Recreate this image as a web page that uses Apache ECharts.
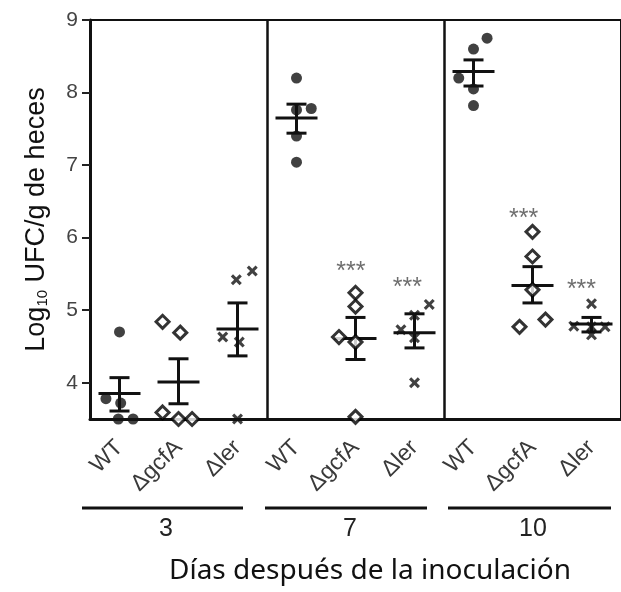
<!DOCTYPE html>
<html lang="es">
<head>
<meta charset="UTF-8">
<title>UFC</title>
<style>
  *{margin:0;padding:0;}
  html,body{width:100%;height:100%;background:#fff;}
  #chart{width:621px;height:592px;}
</style>
</head>
<body>
<div id="chart"></div>
<script src="https://cdn.jsdelivr.net/npm/echarts@6/dist/echarts.min.js"></script>
<script>
// categories (strain per day group)
const strains = ['WT', 'ΔgcfA', 'Δler'];
const days = ['3', '7', '10'];
const categories = ['WT', 'ΔgcfA', 'Δler', 'WT', 'ΔgcfA', 'Δler', 'WT', 'ΔgcfA', 'Δler'];
const yTicks = [4, 5, 6, 7, 8, 9];

// individual animals: [category index + jitter, log10 UFC]
const wtPoints = [
  [0.00, 4.70], [-0.23, 3.78], [0.02, 3.72], [-0.02, 3.50], [0.23, 3.50],
  [3.00, 8.20], [3.25, 7.78], [3.00, 7.76], [3.00, 7.40], [3.00, 7.04],
  [6.23, 8.75], [6.00, 8.60], [5.75, 8.20], [6.00, 8.05], [6.00, 7.82]
];
const gcfaPoints = [
  [0.73, 4.84], [1.03, 4.69], [0.73, 3.59], [1.00, 3.50], [1.23, 3.50],
  [4.00, 5.24], [4.00, 5.05], [3.72, 4.63], [4.00, 4.56], [4.00, 3.53],
  [7.00, 6.08], [7.00, 5.74], [7.00, 5.28], [6.78, 4.77], [7.22, 4.87]
];
const lerPoints = [
  [1.98, 5.42], [2.25, 5.54], [1.75, 4.63], [2.03, 4.56], [2.00, 3.50],
  [5.25, 5.08], [5.00, 4.93], [4.77, 4.73], [5.00, 4.62], [5.00, 4.00],
  [8.00, 5.09], [7.70, 4.78], [8.00, 4.77], [8.23, 4.77], [8.00, 4.66]
];

// mean ± SEM
const means   = [3.85, 4.01, 4.74, 7.65, 4.61, 4.69, 8.29, 5.34, 4.81];
const semHigh = [4.07, 4.33, 5.10, 7.84, 4.90, 4.95, 8.45, 5.60, 4.90];
const semLow  = [3.61, 3.71, 4.37, 7.44, 4.32, 4.48, 8.09, 5.10, 4.70];

// significance marks: [category index + shift, height]
const starMarks = [[3.92, 5.52], [4.88, 5.31], [6.85, 6.26], [7.83, 5.27]];

const crossPath = 'path://M0,2 L2,0 L5,3 L8,0 L10,2 L7,5 L10,8 L8,10 L5,7 L2,10 L0,8 L3,5 Z';

function shift(pts) {
  return pts.map(p => [p[0] + 0.5, p[1]]);
}

const errData = means.map((m, i) => [i + 0.5, m, semLow[i], semHigh[i]]);

const chart = echarts.init(document.getElementById('chart'));

const option = {
  animation: false,
  grid: {
    left: 90, top: 20, width: 540, height: 399,
    show: true, borderColor: '#111', borderWidth: 2
  },
  xAxis: [{
    type: 'category',
    data: categories,
    boundaryGap: true,
    axisLine: {lineStyle: {color: '#111', width: 3}},
    axisTick: {alignWithLabel: true, length: 8, lineStyle: {color: '#222', width: 2}},
    axisLabel: {rotate: 45, fontSize: 23, color: '#3a3a3a', margin: 25, fontFamily: 'Liberation Sans'},
    splitLine: {show: false}
  }, {
    type: 'value',
    min: 0, max: 9,
    show: false
  }],
  yAxis: {
    type: 'value',
    min: 3.5, max: 9,
    interval: 0.5,
    axisLine: {show: true, lineStyle: {color: '#111', width: 3}},
    axisTick: {show: true, length: 8, customValues: yTicks, lineStyle: {color: '#222', width: 2}},
    axisLabel: {fontSize: 21, color: '#444', margin: 12, customValues: yTicks, fontFamily: 'Liberation Sans'},
    splitLine: {show: false},
    name: '{a|Log}{b|10}{a| UFC/g de heces}',
    nameLocation: 'middle',
    nameRotate: 90,
    nameGap: 40,
    nameTextStyle: {
      color: '#111',
      rich: {
        a: {fontSize: 27, fontFamily: 'Liberation Sans', color: '#111'},
        b: {fontSize: 15, fontFamily: 'Liberation Sans', color: '#111', verticalAlign: 'bottom', padding: [11, 0, 0, 0]}
      }
    }
  },
  series: [{
    type: 'custom',
    xAxisIndex: 1,
    data: errData,
    renderItem: function (params, api) {
      const x = api.value(0);
      const c = api.coord([x, api.value(1)]);
      const lo = api.coord([x, api.value(2)]);
      const hi = api.coord([x, api.value(3)]);
      const halfMean = 21, halfCap = 10;
      const style = {stroke: '#111', lineWidth: 3};
      return {
        type: 'group',
        children: [
          {type: 'line', shape: {x1: c[0] - halfMean, y1: c[1], x2: c[0] + halfMean, y2: c[1]}, style: style},
          {type: 'line', shape: {x1: lo[0], y1: lo[1], x2: hi[0], y2: hi[1]}, style: style},
          {type: 'line', shape: {x1: hi[0] - halfCap, y1: hi[1], x2: hi[0] + halfCap, y2: hi[1]}, style: style},
          {type: 'line', shape: {x1: lo[0] - halfCap, y1: lo[1], x2: lo[0] + halfCap, y2: lo[1]}, style: style}
        ]
      };
    },
    z: 3
  }, {
    name: strains[0],
    type: 'scatter',
    xAxisIndex: 1,
    data: shift(wtPoints),
    symbol: 'circle',
    symbolSize: 11,
    itemStyle: {color: '#111'},
    z: 4,
    markLine: {
      silent: true,
      symbol: 'none',
      label: {show: false},
      lineStyle: {color: '#111', width: 2.5, type: 'solid'},
      data: [{xAxis: 3}, {xAxis: 6}]
    }
  }, {
    name: strains[1],
    type: 'scatter',
    xAxisIndex: 1,
    data: shift(gcfaPoints),
    symbol: 'diamond',
    symbolSize: 13,
    itemStyle: {color: '#fff', borderColor: '#000', borderWidth: 3},
    z: 4
  }, {
    name: strains[2],
    type: 'scatter',
    xAxisIndex: 1,
    data: shift(lerPoints),
    symbol: crossPath,
    symbolSize: 11,
    itemStyle: {color: '#111'},
    z: 4
  }, {
    type: 'scatter',
    xAxisIndex: 1,
    data: shift(starMarks),
    symbol: 'circle',
    symbolSize: 1,
    itemStyle: {color: 'rgba(0,0,0,0)'},
    label: {show: true, formatter: '***', position: 'inside', fontSize: 25, color: '#4a4a4a', fontFamily: 'Liberation Sans'},
    z: 5
  }],
  graphic: [
    {type: 'line', shape: {x1: 82, y1: 508, x2: 243, y2: 508}, style: {stroke: '#111', lineWidth: 3}},
    {type: 'line', shape: {x1: 265, y1: 508, x2: 427, y2: 508}, style: {stroke: '#111', lineWidth: 3}},
    {type: 'line', shape: {x1: 448, y1: 508, x2: 611, y2: 508}, style: {stroke: '#111', lineWidth: 3}},
    {type: 'text', x: 166, y: 529, style: {text: days[0], fontSize: 25, fill: '#222', fontFamily: 'Liberation Sans', align: 'center', verticalAlign: 'middle'}},
    {type: 'text', x: 350, y: 529, style: {text: days[1], fontSize: 25, fill: '#222', fontFamily: 'Liberation Sans', align: 'center', verticalAlign: 'middle'}},
    {type: 'text', x: 533, y: 529, style: {text: days[2], fontSize: 25, fill: '#222', fontFamily: 'Liberation Sans', align: 'center', verticalAlign: 'middle'}},
    {type: 'text', x: 370, y: 571, style: {text: 'Días después de la inoculación', fontSize: 28, fill: '#111', fontFamily: 'Noto Sans', align: 'center', verticalAlign: 'middle'}}
  ]
};

chart.setOption(option);
</script>
</body>
</html>
